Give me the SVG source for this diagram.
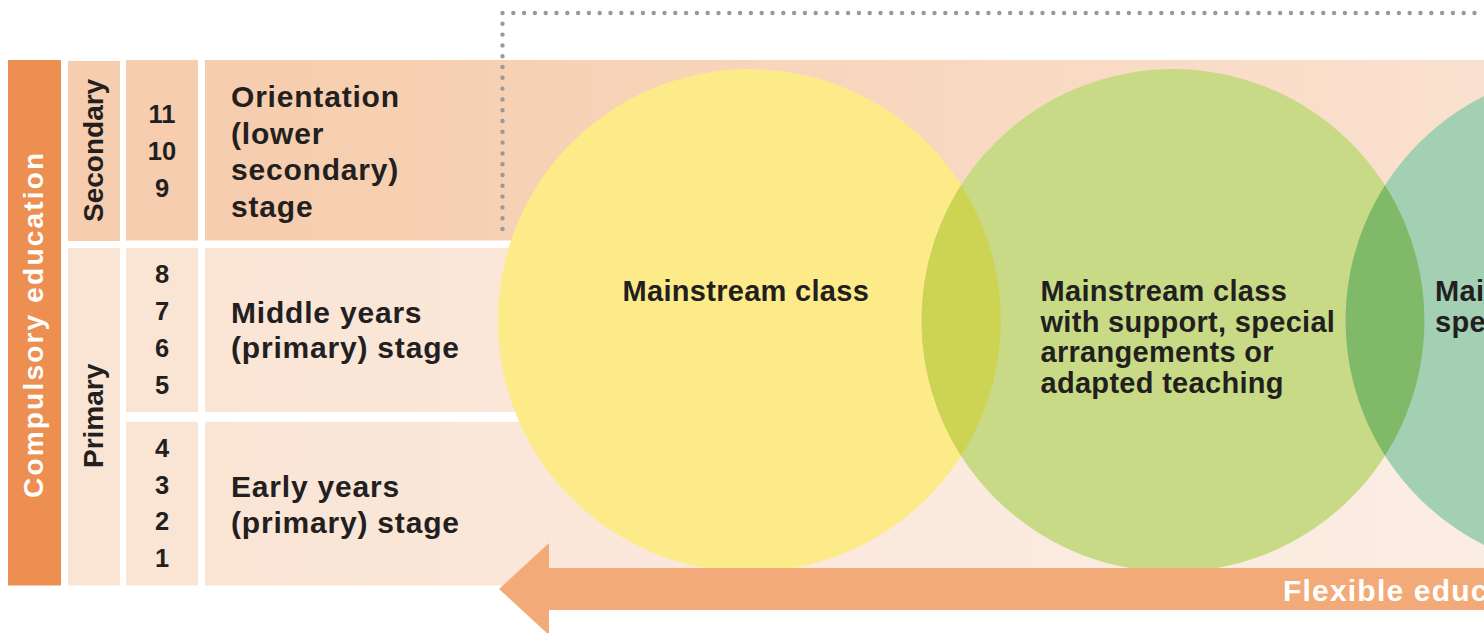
<svg xmlns="http://www.w3.org/2000/svg" width="1484" height="633" viewBox="0 0 1484 633">
  <defs>
    <style>
      text { font-family: "Liberation Sans", Arial, Helvetica, sans-serif; font-weight: bold; fill: #231F20; }
      .white { fill: #FFFFFF; }
      .vert { font-size: 28px; }
      .num { font-size: 25.5px; text-anchor: middle; }
      .stage { font-size: 30px; letter-spacing: 0.8px; }
      .circ { font-size: 29px; letter-spacing: 0.3px; }
      .flex { font-size: 30px; letter-spacing: 1.2px; }
      .sec { fill: #F6CDAE; }
      .pri { fill: #FAE5D5; }
    </style>
    <linearGradient id="gTop" x1="205" y1="0" x2="1484" y2="0" gradientUnits="userSpaceOnUse">
      <stop offset="0" stop-color="#F6CDAE"/>
      <stop offset="0.25" stop-color="#F7D1B4"/>
      <stop offset="1" stop-color="#FAE1CF"/>
    </linearGradient>
    <linearGradient id="gBot" x1="205" y1="0" x2="1484" y2="0" gradientUnits="userSpaceOnUse">
      <stop offset="0" stop-color="#FAE5D5"/>
      <stop offset="1" stop-color="#FBEDE4"/>
    </linearGradient>
    <clipPath id="clipY"><circle cx="749.3" cy="320.5" r="251.4"/></clipPath>
    <clipPath id="clipG"><circle cx="1173" cy="320.5" r="251.4"/></clipPath>
  </defs>

  <rect x="0" y="0" width="1484" height="633" fill="#FFFFFF"/>

  <g id="band">
    <rect x="205" y="60" width="1279" height="184" fill="url(#gTop)"/>
    <rect x="205" y="244" width="1279" height="341.5" fill="url(#gBot)"/>
    <rect x="198" y="240.5" width="800" height="7.5" fill="#FFFFFF"/>
    <rect x="198" y="412" width="800" height="9.8" fill="#FFFFFF"/>
  </g>

  <g id="compulsory-education">
    <rect x="8" y="60" width="53" height="525.5" fill="#EC8F50"/>
    <text class="vert white" transform="translate(42.5,498) rotate(-90)" style="letter-spacing:2.2px">Compulsory education</text>
  </g>

  <g id="secondary">
    <rect class="sec" x="68" y="61" width="52" height="180"/>
    <text class="vert" transform="translate(103,222) rotate(-90)">Secondary</text>
  </g>

  <g id="primary">
    <rect class="pri" x="68" y="248" width="52" height="337.5"/>
    <text class="vert" transform="translate(103,468) rotate(-90)">Primary</text>
  </g>

  <g id="years-secondary">
    <rect class="sec" x="126" y="60" width="72" height="180.5"/>
    <text class="num" x="162" y="123.3">11</text>
    <text class="num" x="162" y="160">10</text>
    <text class="num" x="162" y="196.7">9</text>
  </g>

  <g id="years-middle">
    <rect class="pri" x="126" y="248" width="72" height="164"/>
    <text class="num" x="162" y="283.3">8</text>
    <text class="num" x="162" y="320">7</text>
    <text class="num" x="162" y="356.7">6</text>
    <text class="num" x="162" y="393.5">5</text>
  </g>

  <g id="years-early">
    <rect class="pri" x="126" y="421.8" width="72" height="163.7"/>
    <text class="num" x="162" y="456.7">4</text>
    <text class="num" x="162" y="493.5">3</text>
    <text class="num" x="162" y="530.3">2</text>
    <text class="num" x="162" y="567">1</text>
  </g>

  <g id="stage-orientation">
    <text class="stage" x="231" y="107">Orientation</text>
    <text class="stage" x="231" y="143.5">(lower</text>
    <text class="stage" x="231" y="180">secondary)</text>
    <text class="stage" x="231" y="216.5">stage</text>
  </g>

  <g id="stage-middle">
    <text class="stage" x="231" y="323">Middle years</text>
    <text class="stage" x="231" y="358">(primary) stage</text>
  </g>

  <g id="stage-early">
    <text class="stage" x="231" y="496.5">Early years</text>
    <text class="stage" x="231" y="532.5">(primary) stage</text>
  </g>

  <g id="connectors">
    <path d="M502.5,229 L502.5,13 L1484,13" fill="none" stroke="#999999" stroke-width="4.4" stroke-linecap="round" stroke-dasharray="0 10.8"/>
  </g>

  <g id="circle-mainstream">
    <circle cx="749.3" cy="320.5" r="251.4" fill="#FDEB8A"/>
    <text class="circ" x="622.5" y="301">Mainstream class</text>
  </g>

  <g id="circle-support">
    <circle cx="1173" cy="320.5" r="251.4" fill="#C8DA85"/>
    <circle cx="1173" cy="320.5" r="251.4" fill="#CDD352" clip-path="url(#clipY)"/>
    <text class="circ" x="1040.5" y="301">Mainstream class</text>
    <text class="circ" x="1040.5" y="331.5">with support, special</text>
    <text class="circ" x="1040.5" y="362">arrangements or</text>
    <text class="circ" x="1040.5" y="392.5">adapted teaching</text>
  </g>

  <g id="circle-special">
    <circle cx="1597" cy="320.5" r="251.4" fill="#A3CFB2"/>
    <circle cx="1597" cy="320.5" r="251.4" fill="#80BA69" clip-path="url(#clipG)"/>
    <text class="circ" x="1435" y="301">Mai</text>
    <text class="circ" x="1435" y="331.5">spe</text>
  </g>

  <g id="flexible-arrow">
    <polygon points="499,589 549,543 549,568 1484,568 1484,610 549,610 549,635" fill="#F2AB78"/>
    <text class="flex white" x="1283" y="601">Flexible educ</text>
  </g>
</svg>
